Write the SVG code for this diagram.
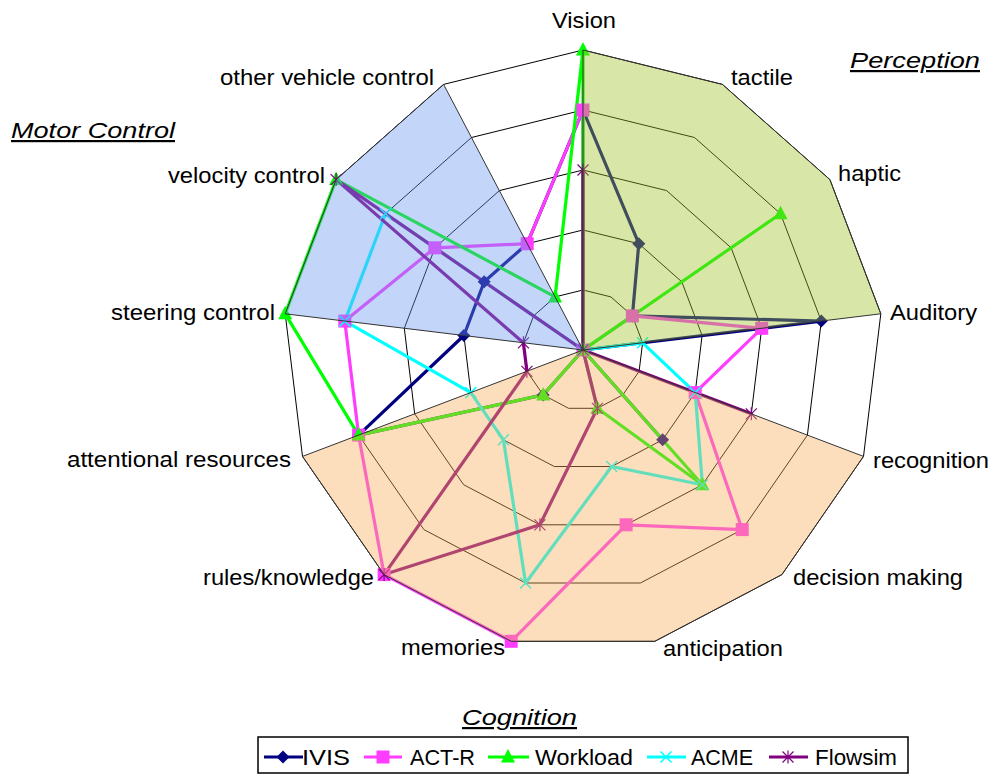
<svg xmlns="http://www.w3.org/2000/svg" xmlns:xlink="http://www.w3.org/1999/xlink" width="995" height="775" viewBox="0 0 995 775">
<style>
.ring{fill:none;stroke:#000;stroke-width:1}
.ser{fill:none;stroke-width:3.2;stroke-linejoin:round}
.ivis{stroke:#000080}
.actr{stroke:#FF3CFF}
.work{stroke:#00FF00}
.acme{stroke:#00FFFF}
.flow{stroke:#800080}
.lbl{font-family:"Liberation Sans",Arial,sans-serif;font-size:22px;fill:#000}
.ttl{font-family:"Liberation Sans",Arial,sans-serif;font-size:22px;font-style:italic;text-decoration:underline;fill:#000}
.area{fill-opacity:0.4;stroke:#333;stroke-width:1}
</style>
<defs>
<polygon id="mDia" points="0,-6.5 6.5,0 0,6.5 -6.5,0" fill="#000080"/>
<rect id="mSq" x="-6.5" y="-6.5" width="13" height="13" fill="#FF3CFF"/>
<polygon id="mTri" points="0,-8 7,5.5 -7,5.5" fill="#00FF00"/>
<path id="mX" d="M-5.5,-5.5L5.5,5.5M-5.5,5.5L5.5,-5.5" stroke="#00FFFF" stroke-width="1.5" fill="none"/>
<path id="mAst" d="M-5.5,-5.5L5.5,5.5M-5.5,5.5L5.5,-5.5M0,-6.5L0,6.5" stroke="#800080" stroke-width="1.2" fill="none"/>
</defs>
<rect width="995" height="775" fill="#fff"/>
<g id="grid">
<polygon class="ring" points="583,290 610.9,296.9 632.4,315.9 642.6,342.8 639.1,371.3 622.8,394.9 597.4,408.3 568.6,408.3 543.2,394.9 526.9,371.3 523.4,342.8 533.6,315.9 555.1,296.9"/>
<polygon class="ring" points="583,230 638.8,243.7 681.8,281.8 702.1,335.5 695.2,392.6 662.6,439.8 611.7,466.5 554.3,466.5 503.4,439.8 470.8,392.6 463.9,335.5 484.2,281.8 527.2,243.7"/>
<polygon class="ring" points="583,170 666.6,190.6 731.1,247.8 761.7,328.3 751.3,413.8 702.4,484.7 626.1,524.8 539.9,524.8 463.6,484.7 414.7,413.8 404.3,328.3 434.9,247.8 499.4,190.6"/>
<polygon class="ring" points="583,110 694.5,137.5 780.5,213.7 821.3,321.1 807.4,435.1 742.2,529.6 640.4,583 525.6,583 423.9,529.6 358.6,435.1 344.8,321.1 385.5,213.7 471.5,137.5"/>
<polygon class="ring" points="583,50 722.4,84.4 829.9,179.6 880.8,313.8 863.5,456.4 781.9,574.6 654.8,641.3 511.2,641.3 384.1,574.6 302.5,456.4 285.2,313.8 336.1,179.6 443.6,84.4"/>
</g>
<g id="connectors">
<polygon id="s-ivis" class="ser ivis" points="583,110 638.8,243.7 632.4,315.9 821.3,321.1 583,350 662.6,439.8 583,350 583,350 543.2,394.9 358.6,435.1 463.9,335.5 484.2,281.8 527.2,243.7"/>
<polygon id="s-actr" class="ser actr" points="583,110 583,350 632.4,315.9 761.7,328.3 695.2,392.6 742.2,529.6 626.1,524.8 511.2,641.3 384.1,574.6 358.6,435.1 344.8,321.1 434.9,247.8 527.2,243.7"/>
<polygon id="s-work" class="ser work" points="583,50 583,350 780.5,213.7 583,350 583,350 702.4,484.7 597.4,408.3 583,350 543.2,394.9 358.6,435.1 285.2,313.8 336.1,179.6 555.1,296.9"/>
<polygon id="s-acme" class="ser acme" points="583,350 583,350 583,350 642.6,342.8 695.2,392.6 702.4,484.7 611.7,466.5 525.6,583 503.4,439.8 470.8,392.6 344.8,321.1 385.5,213.7 583,350"/>
<polygon id="s-flow" class="ser flow" points="583,170 583,350 583,350 583,350 751.3,413.8 583,350 597.4,408.3 539.9,524.8 384.1,574.6 526.9,371.3 523.4,342.8 336.1,179.6 583,350"/>
</g>
<g id="markers">
<g id="m-ivis">
<use href="#mDia" x="583" y="110"/><use href="#mDia" x="638.8" y="243.7"/><use href="#mDia" x="632.4" y="315.9"/><use href="#mDia" x="821.3" y="321.1"/><use href="#mDia" x="583" y="350"/><use href="#mDia" x="662.6" y="439.8"/><use href="#mDia" x="543.2" y="394.9"/><use href="#mDia" x="358.6" y="435.1"/><use href="#mDia" x="463.9" y="335.5"/><use href="#mDia" x="484.2" y="281.8"/><use href="#mDia" x="527.2" y="243.7"/>
</g>
<g id="m-actr">
<use href="#mSq" x="583" y="110"/><use href="#mSq" x="583" y="350"/><use href="#mSq" x="632.4" y="315.9"/><use href="#mSq" x="761.7" y="328.3"/><use href="#mSq" x="695.2" y="392.6"/><use href="#mSq" x="742.2" y="529.6"/><use href="#mSq" x="626.1" y="524.8"/><use href="#mSq" x="511.2" y="641.3"/><use href="#mSq" x="384.1" y="574.6"/><use href="#mSq" x="358.6" y="435.1"/><use href="#mSq" x="344.8" y="321.1"/><use href="#mSq" x="434.9" y="247.8"/><use href="#mSq" x="527.2" y="243.7"/>
</g>
<g id="m-work">
<use href="#mTri" x="583" y="50"/><use href="#mTri" x="583" y="350"/><use href="#mTri" x="780.5" y="213.7"/><use href="#mTri" x="702.4" y="484.7"/><use href="#mTri" x="597.4" y="408.3"/><use href="#mTri" x="543.2" y="394.9"/><use href="#mTri" x="358.6" y="435.1"/><use href="#mTri" x="285.2" y="313.8"/><use href="#mTri" x="336.1" y="179.6"/><use href="#mTri" x="555.1" y="296.9"/>
</g>
<g id="m-acme">
<use href="#mX" x="583" y="350"/><use href="#mX" x="642.6" y="342.8"/><use href="#mX" x="695.2" y="392.6"/><use href="#mX" x="702.4" y="484.7"/><use href="#mX" x="611.7" y="466.5"/><use href="#mX" x="525.6" y="583"/><use href="#mX" x="503.4" y="439.8"/><use href="#mX" x="470.8" y="392.6"/><use href="#mX" x="344.8" y="321.1"/><use href="#mX" x="385.5" y="213.7"/>
</g>
<g id="m-flow">
<use href="#mAst" x="583" y="170"/><use href="#mAst" x="583" y="350"/><use href="#mAst" x="751.3" y="413.8"/><use href="#mAst" x="597.4" y="408.3"/><use href="#mAst" x="539.9" y="524.8"/><use href="#mAst" x="384.1" y="574.6"/><use href="#mAst" x="526.9" y="371.3"/><use href="#mAst" x="523.4" y="342.8"/><use href="#mAst" x="336.1" y="179.6"/>
</g>
</g>
<g id="perception-area"><polygon class="area" fill="#9DC125" points="583,350 583,50 722.4,84.4 829.9,179.6 880.8,313.8"/></g>
<g id="motor-area"><polygon class="area" fill="#6B96F2" points="583,350 285.2,313.8 336.1,179.6 443.6,84.4"/></g>
<g id="cognition-area"><polygon class="area" fill="#F7AC57" points="583,350 863.5,456.4 781.9,574.6 654.8,641.3 511.2,641.3 384.1,574.6 302.5,456.4"/></g>
<g id="labels">
<text class="lbl" x="552" y="28" textLength="64" lengthAdjust="spacingAndGlyphs">Vision</text>
<text class="lbl" x="731" y="85" textLength="62" lengthAdjust="spacingAndGlyphs">tactile</text>
<text class="lbl" x="838" y="181" textLength="63" lengthAdjust="spacingAndGlyphs">haptic</text>
<text class="lbl" x="890" y="320" textLength="87" lengthAdjust="spacingAndGlyphs">Auditory</text>
<text class="lbl" x="873" y="468" textLength="116" lengthAdjust="spacingAndGlyphs">recognition</text>
<text class="lbl" x="793" y="585" textLength="170" lengthAdjust="spacingAndGlyphs">decision making</text>
<text class="lbl" x="663" y="656" textLength="120" lengthAdjust="spacingAndGlyphs">anticipation</text>
<text class="lbl" x="401" y="655" textLength="104" lengthAdjust="spacingAndGlyphs">memories</text>
<text class="lbl" x="203" y="585" textLength="171" lengthAdjust="spacingAndGlyphs">rules/knowledge</text>
<text class="lbl" x="67" y="467" textLength="224" lengthAdjust="spacingAndGlyphs">attentional resources</text>
<text class="lbl" x="111" y="320" textLength="164" lengthAdjust="spacingAndGlyphs">steering control</text>
<text class="lbl" x="168" y="183" textLength="157" lengthAdjust="spacingAndGlyphs">velocity control</text>
<text class="lbl" x="220" y="85" textLength="214" lengthAdjust="spacingAndGlyphs">other vehicle control</text>
<text class="ttl" x="11" y="138" textLength="164" lengthAdjust="spacingAndGlyphs">Motor Control</text>
<text class="ttl" x="850" y="68" textLength="130" lengthAdjust="spacingAndGlyphs">Perception</text>
<text class="ttl" x="462" y="725" textLength="115" lengthAdjust="spacingAndGlyphs">Cognition</text>
</g>
<g id="legend">
<rect x="258" y="737" width="650" height="36" fill="#fff" stroke="#000" stroke-width="1.5"/>
<line x1="264" y1="757" x2="303" y2="757" class="ivis" stroke-width="3"/><use href="#mDia" x="283" y="757"/>
<text class="lbl" x="302" y="765" textLength="48" lengthAdjust="spacingAndGlyphs">IVIS</text>
<line x1="364" y1="757" x2="402" y2="757" class="actr" stroke-width="3"/><use href="#mSq" x="383" y="757"/>
<text class="lbl" x="410" y="765" textLength="65" lengthAdjust="spacingAndGlyphs">ACT-R</text>
<line x1="488" y1="757" x2="529" y2="757" class="work" stroke-width="3"/><use href="#mTri" x="508" y="757"/>
<text class="lbl" x="535" y="765" textLength="98" lengthAdjust="spacingAndGlyphs">Workload</text>
<line x1="647" y1="757" x2="686" y2="757" class="acme" stroke-width="3"/><use href="#mX" x="666" y="757"/>
<text class="lbl" x="691" y="765" textLength="62" lengthAdjust="spacingAndGlyphs">ACME</text>
<line x1="769" y1="757" x2="808" y2="757" class="flow" stroke-width="3"/><use href="#mAst" x="788" y="757"/>
<text class="lbl" x="815" y="765" textLength="82" lengthAdjust="spacingAndGlyphs">Flowsim</text>
</g>
</svg>
